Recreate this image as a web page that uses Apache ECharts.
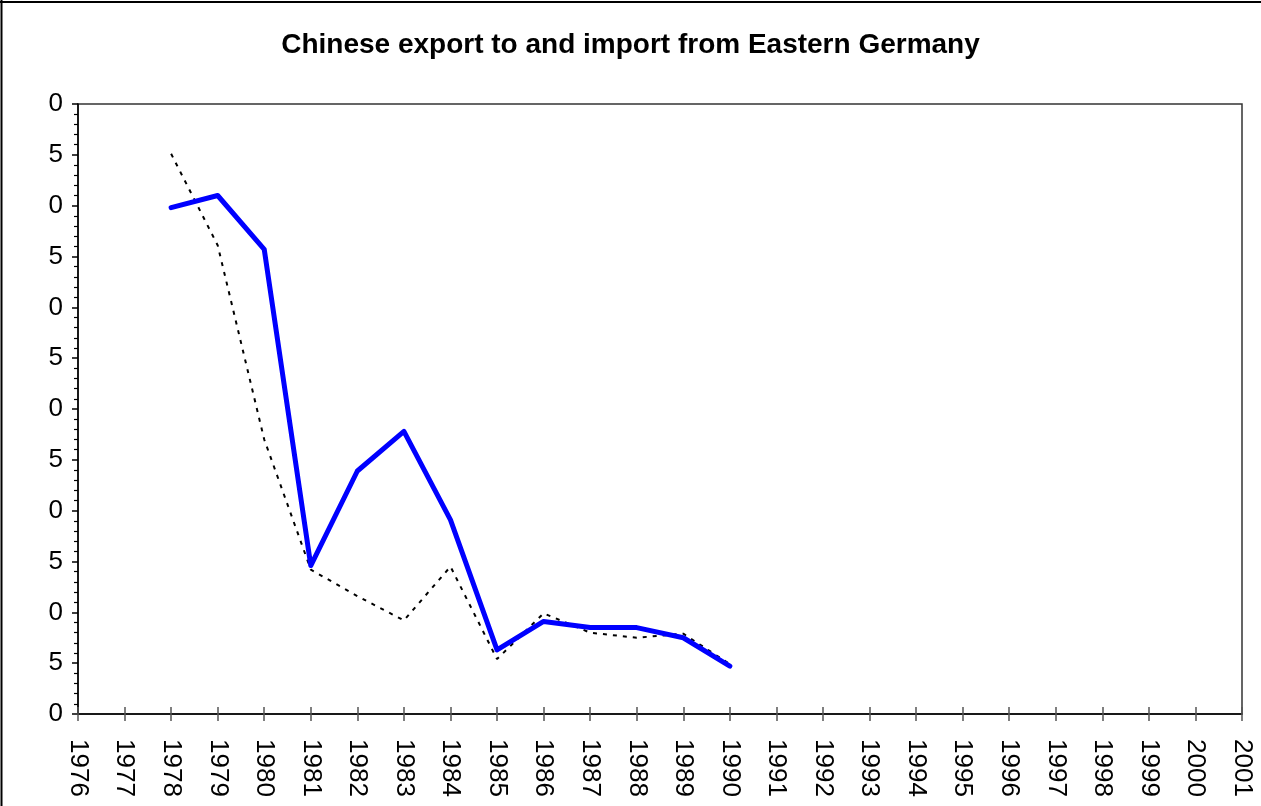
<!DOCTYPE html>
<html>
<head>
<meta charset="utf-8">
<script src="https://cdn.jsdelivr.net/npm/echarts@6/dist/echarts.min.js"></script>
<style>
    html, body { margin: 0; padding: 0; background: #fff; }
    #charts { width: 1261px; height: 806px; }
</style>
</head>
<body>
<div id="charts"></div>
<script>
    var years = ['1976', '1977', '1978', '1979', '1980', '1981', '1982', '1983', '1984',
        '1985', '1986', '1987', '1988', '1989', '1990', '1991', '1992', '1993', '1994',
        '1995', '1996', '1997', '1998', '1999', '2000', '2001'];
    var dataYears = ['1978', '1979', '1980', '1981', '1982', '1983', '1984',
        '1985', '1986', '1987', '1988', '1989', '1990'];
    // blue solid line
    var seriesA = [49.8, 51.0, 45.7, 14.6, 23.9, 27.8, 19.1, 6.3, 9.1, 8.5, 8.5, 7.5, 4.7];
    // black dotted line
    var seriesB = [55.1, 46.1, 27.0, 14.2, 11.6, 9.2, 14.5, 5.4, 9.9, 8.0, 7.5, 7.9, 4.9];

    function pairs(vals) {
        var out = [];
        for (var i = 0; i < vals.length; i++) {
            out.push([dataYears[i], vals[i]]);
        }
        return out;
    }

    var myChart = echarts.init(document.getElementById('charts'));
    var font = 'Liberation Sans, Arial, sans-serif';

    var option = {
        animation: false,
        backgroundColor: '#fff',
        title: {
            text: 'Chinese export to and import from Eastern Germany',
            left: 'center',
            top: 26,
            textStyle: {
                fontFamily: font,
                fontWeight: 'bold',
                fontSize: 28,
                color: '#000'
            }
        },
        grid: {
            left: 78,
            top: 104,
            right: 19,
            bottom: 92,
            show: true,
            borderColor: '#333',
            borderWidth: 1.5
        },
        xAxis: [{
            type: 'category',
            data: years,
            boundaryGap: false,
            axisLine: { lineStyle: { color: '#000', width: 1.5 } },
            axisTick: { length: 7, lineStyle: { color: '#555', width: 1.5 } },
            axisLabel: {
                rotate: -90,
                margin: 25,
                fontFamily: font,
                fontSize: 26,
                color: '#000'
            },
            splitLine: { show: false }
        }, {
            type: 'category',
            data: years,
            boundaryGap: false,
            position: 'bottom',
            axisLine: { show: false },
            axisTick: { inside: true, length: 7, lineStyle: { color: '#555', width: 1.5 } },
            axisLabel: { show: false },
            splitLine: { show: false }
        }],
        yAxis: {
            type: 'value',
            min: 0,
            max: 60,
            interval: 5,
            axisLine: { show: true, lineStyle: { color: '#000', width: 1.5 } },
            axisTick: { show: true, length: 6, lineStyle: { color: '#000', width: 1.5 } },
            minorTick: { show: true, splitNumber: 5, length: 4, lineStyle: { color: '#000', width: 1.2 } },
            axisLabel: {
                margin: 15,
                fontFamily: font,
                fontSize: 26,
                color: '#000'
            },
            splitLine: { show: false }
        },
        graphic: [
            // cover the leading digits of the y labels, as in the cropped original
            { type: 'rect', z: 100, shape: { x: 4, y: 88, width: 44, height: 645 }, style: { fill: '#fff' } },
            { type: 'line', z: 101, shape: { x1: 0, y1: 2, x2: 1261, y2: 2 }, style: { stroke: '#000', lineWidth: 2 } },
            { type: 'line', z: 101, shape: { x1: 1.5, y1: 0, x2: 1.5, y2: 806 }, style: { stroke: '#000', lineWidth: 2 } }
        ],
        series: [{
            name: 'import',
            type: 'line',
            data: pairs(seriesB),
            symbol: 'none',
            z: 2,
            lineStyle: { color: '#000', width: 2, type: [4, 6] }
        }, {
            name: 'export',
            type: 'line',
            data: pairs(seriesA),
            symbol: 'none',
            z: 3,
            lineStyle: { color: '#0000ff', width: 5, cap: 'round', join: 'round' }
        }]
    };

    myChart.setOption(option);
</script>
</body>
</html>
